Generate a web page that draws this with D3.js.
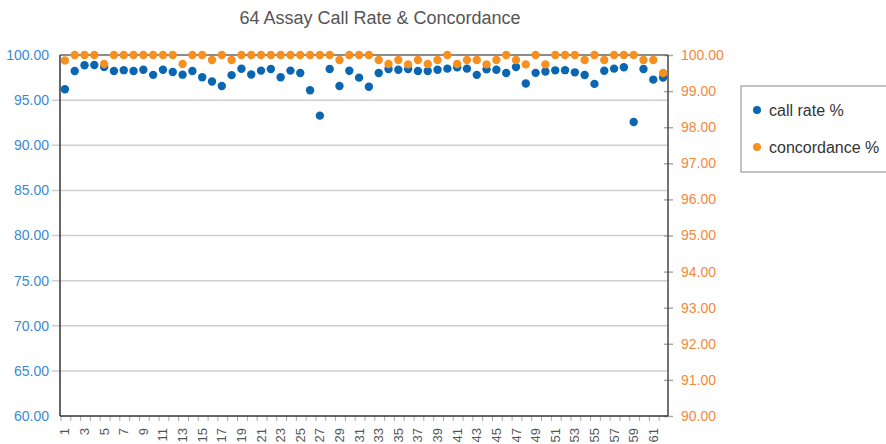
<!DOCTYPE html>
<html>
<head>
<meta charset="utf-8">
<script src="https://cdn.jsdelivr.net/npm/d3@7"></script>
<style>
  body { margin: 0; background: #fff; }
  svg text { font-family: "Liberation Sans", Arial, sans-serif; }
</style>
</head>
<body>
<div id="chart"></div>
<script>
// assay numbers 1..62
const assays = d3.range(1, 63);

const callRate = [
    96.20, 98.23, 98.86, 98.90, 98.68, 98.23, 98.32, 98.23, 98.37, 97.80,
    98.36, 98.12, 97.82, 98.23, 97.53, 97.06, 96.57, 97.77, 98.47, 97.84,
    98.27, 98.45, 97.53, 98.27, 98.00, 96.09, 93.28, 98.45, 96.57, 98.25,
    97.49, 96.49, 98.00, 98.45, 98.36, 98.45, 98.23, 98.23, 98.36, 98.49,
    98.64, 98.49, 97.80, 98.41, 98.36, 98.00, 98.67, 96.84, 98.02, 98.17,
    98.30, 98.32, 98.08, 97.78, 96.80, 98.25, 98.49, 98.64, 92.58, 98.45,
    97.27, 97.51
];

const concordance = [
    99.85, 100, 100, 100, 99.75, 100, 100, 100, 100, 100,
    100, 100, 99.75, 100, 100, 99.86, 100, 99.86, 100, 100,
    100, 100, 100, 100, 100, 100, 100, 100, 99.86, 100,
    100, 100, 99.86, 99.75, 99.86, 99.74, 99.86, 99.75, 99.86, 100,
    99.75, 99.86, 99.86, 99.74, 99.86, 100, 99.86, 99.74, 100, 99.74,
    100, 100, 100, 99.86, 100, 99.86, 100, 100, 100, 99.86,
    99.86, 99.50
];

const leftTicks = [60, 65, 70, 75, 80, 85, 90, 95, 100];
const rightTicks = [90, 91, 92, 93, 94, 95, 96, 97, 98, 99, 100];
const seriesNames = ["call rate %", "concordance %"];

const blue = "#0a66b2";
const orange = "#f7901e";

const width = 886, height = 444;
const plot = {left: 60, right: 668, top: 55, bottom: 416};

const svg = d3.select("#chart").append("svg")
    .attr("width", width)
    .attr("height", height);

// scales
const x = d3.scaleBand().domain(assays).range([plot.left, plot.right]);
const yL = d3.scaleLinear().domain([60, 100]).range([plot.bottom, plot.top]);
const yR = d3.scaleLinear().domain([90, 100]).range([plot.bottom, plot.top]);

// title
svg.append("text")
    .attr("x", 380)
    .attr("y", 24)
    .attr("text-anchor", "middle")
    .attr("fill", "#555")
    .style("font-size", "18px")
    .text("64 Assay Call Rate & Concordance");

// gridlines
svg.append("g")
    .selectAll("line")
    .data(leftTicks.filter(d => d > 60 && d < 100))
    .join("line")
    .attr("x1", plot.left - 8)
    .attr("x2", plot.right)
    .attr("y1", d => yL(d))
    .attr("y2", d => yL(d))
    .attr("stroke", "#cfcfcf")
    .attr("stroke-width", 1.5);

// left axis labels
const leftAxis = d3.axisLeft(yL)
    .tickValues(leftTicks)
    .tickFormat(d3.format(".2f"))
    .tickSize(0)
    .tickPadding(11);

svg.append("g")
    .attr("transform", `translate(${plot.left},0)`)
    .call(leftAxis)
    .call(g => g.select(".domain").remove())
    .call(g => g.selectAll("text")
        .attr("fill", "#3a8ad0")
        .style("font-size", "14px"));

// right axis
const rightAxis = d3.axisRight(yR)
    .tickValues(rightTicks)
    .tickFormat(d3.format(".2f"))
    .tickSize(5)
    .tickPadding(8);

svg.append("g")
    .attr("transform", `translate(${plot.right},0)`)
    .call(rightAxis)
    .call(g => g.select(".domain").remove())
    .call(g => g.selectAll(".tick line")
        .attr("x1", -4)
        .attr("stroke", "#aaa")
        .attr("stroke-width", 1.5))
    .call(g => g.selectAll("text")
        .attr("fill", "#f5883b")
        .style("font-size", "14px"));

// bottom axis: ticks at band edges, labels on odd assays
const xAxisG = svg.append("g")
    .attr("transform", `translate(0,${plot.bottom})`);

xAxisG.selectAll(".xtick")
    .data(assays)
    .join("line")
    .attr("class", "xtick")
    .attr("x1", d => x(d) + 1)
    .attr("x2", d => x(d) + 1)
    .attr("y1", 0)
    .attr("y2", 5)
    .attr("stroke", "#aaa")
    .attr("stroke-width", 1);

xAxisG.selectAll(".xlabel")
    .data(assays.filter(d => d % 2 === 1))
    .join("text")
    .attr("class", "xlabel")
    .attr("transform", d => `translate(${x(d) + x.bandwidth() / 2 + 4.5},12) rotate(-90)`)
    .attr("text-anchor", "end")
    .attr("fill", "#555")
    .style("font-size", "13px")
    .text(d => d);

// frame
const frame = svg.append("g");
frame.append("line")
    .attr("x1", plot.left).attr("x2", plot.right)
    .attr("y1", plot.top).attr("y2", plot.top)
    .attr("stroke", "#666").attr("stroke-width", 1.5);
frame.append("line")
    .attr("x1", plot.right).attr("x2", plot.right)
    .attr("y1", plot.top).attr("y2", plot.bottom)
    .attr("stroke", "#444").attr("stroke-width", 1.5);
frame.append("line")
    .attr("x1", plot.left).attr("x2", plot.left)
    .attr("y1", plot.top).attr("y2", plot.bottom)
    .attr("stroke", "#333").attr("stroke-width", 1.5);
frame.append("line")
    .attr("x1", plot.left).attr("x2", plot.right)
    .attr("y1", plot.bottom).attr("y2", plot.bottom)
    .attr("stroke", "#333").attr("stroke-width", 1.5);

// points
const cx = d => x(d) + x.bandwidth() / 2;

svg.append("g")
    .selectAll("circle")
    .data(assays)
    .join("circle")
    .attr("cx", cx)
    .attr("cy", (d, i) => yL(callRate[i]))
    .attr("r", 4.2)
    .attr("fill", blue);

svg.append("g")
    .selectAll("circle")
    .data(assays)
    .join("circle")
    .attr("cx", cx)
    .attr("cy", (d, i) => yR(concordance[i]))
    .attr("r", 4.2)
    .attr("fill", orange);

// legend
const legend = svg.append("g").attr("transform", "translate(741,86)");
legend.append("rect")
    .attr("width", 160)
    .attr("height", 86)
    .attr("fill", "#fff")
    .attr("stroke", "#888")
    .attr("stroke-width", 1);

const items = legend.selectAll(".item")
    .data(seriesNames)
    .join("g")
    .attr("class", "item")
    .attr("transform", (d, i) => `translate(16,${24 + i * 37})`);

items.append("circle")
    .attr("r", 4)
    .attr("fill", (d, i) => i === 0 ? blue : orange);

items.append("text")
    .attr("x", 12)
    .attr("dy", "0.35em")
    .attr("fill", "#333")
    .style("font-size", "16px")
    .text(d => d);
</script>
</body>
</html>
